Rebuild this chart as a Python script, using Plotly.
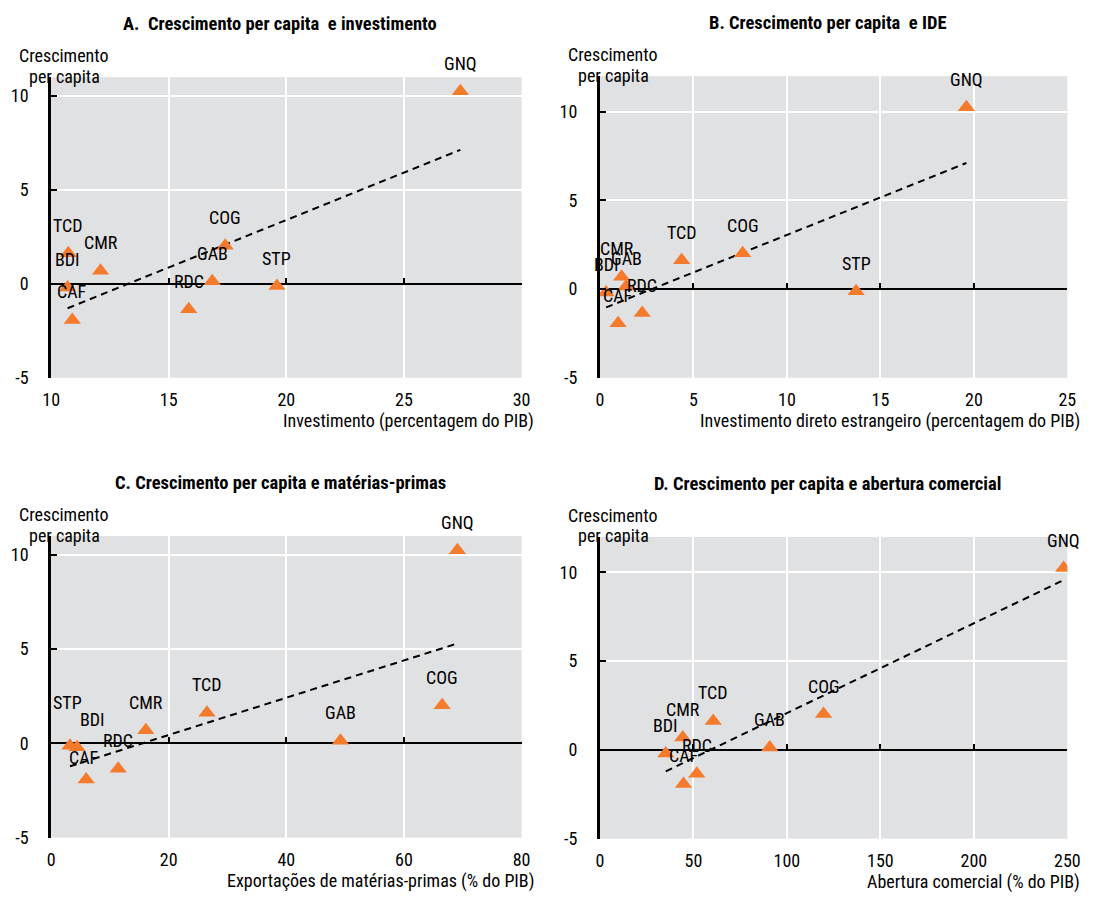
import numpy as np
import plotly.graph_objects as go

# ---- data -----------------------------------------------------------------
countries = ["GNQ", "COG", "GAB", "TCD", "CMR", "STP", "BDI", "RDC", "CAF"]
growth_per_capita = [10.25, 2.02, 0.14, 1.63, 0.70, -0.12, -0.20, -1.35, -1.92]

investment = [27.4, 17.4, 16.85, 10.73, 12.1, 19.6, 10.7, 15.85, 10.9]
fdi = [19.6, 7.63, 1.4, 4.37, 1.16, 13.7, 0.33, 2.26, 0.97]
commodity_exports = [69.1, 66.5, 49.2, 26.5, 16.1, 3.2, 4.4, 11.4, 5.96]
trade_openness = [248.0, 119.6, 90.8, 60.6, 44.3, None, 35.2, 51.8, 44.7]

y_ticks = [-5, 0, 5, 10]
y_tick_text = ["-5", "0", "5", "10"]

# ---- styling --------------------------------------------------------------
FONT = ("Liberation Sans Narrow, Arial Narrow, Roboto Condensed, "
        "DejaVu Sans Condensed, Arial, sans-serif")
FS = 18
FS_TITLE = 18.5
W, H = 1099, 903
ORANGE = "#F47A2C"
BG = "#E0E1E3"

panels = [
    dict(title="A.  Crescimento per capita  e investimento",
         xtitle="Investimento (percentagem do PIB)",
         x=investment, xrange=[10, 30], xticks=[10, 15, 20, 25, 30],
         yrange=[-5, 11], box=(43, 78, 523, 382), label_shift={}),
    dict(title="B. Crescimento per capita  e IDE",
         xtitle="Investimento direto estrangeiro (percentagem do PIB)",
         x=fdi, xrange=[0, 25], xticks=[0, 5, 10, 15, 20, 25],
         yrange=[-5, 12], box=(603, 77, 1080, 382),
         label_shift={"CMR": (-5, 28)}),
    dict(title="C. Crescimento per capita e matérias-primas",
         xtitle="Exportações de matérias-primas (% do PIB)",
         x=commodity_exports, xrange=[0, 80], xticks=[0, 20, 40, 60, 80],
         yrange=[-5, 11], box=(43, 542, 523, 847),
         label_shift={"STP": (-2, 43), "BDI": (15, 28), "CAF": (-2, 22)}),
    dict(title="D. Crescimento per capita e abertura comercial",
         xtitle="Abertura comercial (% do PIB)",
         x=trade_openness, xrange=[0, 250], xticks=[0, 50, 100, 150, 200, 250],
         yrange=[-5, 12], box=(603, 543, 1080, 848), label_shift={}),
]

fig = go.Figure()
annotations = []
layout_axes = {}


def px_x(v):
    return v / W


def px_y(v):
    return 1 - v / H


for i, p in enumerate(panels, start=1):
    sfx = "" if i == 1 else str(i)
    xref, yref = f"x{sfx}", f"y{sfx}"
    l, t, r, b = p["box"]

    pts = [(c, xv, yv) for c, xv, yv in zip(countries, p["x"], growth_per_capita)
           if xv is not None]
    xs = np.array([q[1] for q in pts], dtype=float)
    ys = np.array([q[2] for q in pts], dtype=float)

    # least-squares trend line over the observed span
    slope, intercept = np.polyfit(xs, ys, 1)
    tx = np.array([xs.min(), xs.max()])
    fig.add_trace(go.Scatter(
        x=tx, y=slope * tx + intercept, mode="lines",
        line=dict(color="black", width=2, dash="7px,5px"),
        xaxis=xref, yaxis=yref, showlegend=False, hoverinfo="skip"))

    fig.add_trace(go.Scatter(
        x=xs, y=ys, mode="markers",
        marker=dict(symbol="triangle-up", size=15, color=ORANGE),
        xaxis=xref, yaxis=yref, showlegend=False,
        text=[q[0] for q in pts], hoverinfo="text+x+y"))

    # country labels
    for c, xv, yv in pts:
        dx, dy = p["label_shift"].get(c, (0, 28))
        annotations.append(dict(
            x=xv, y=yv, xref=xref, yref=yref, text=c, showarrow=False,
            xanchor="center", yanchor="middle", xshift=dx, yshift=dy,
            font=dict(family=FONT, size=FS, color="black")))

    # empty trace so the zero-line tick axis gets drawn
    ov = 4 + i
    fig.add_trace(go.Scatter(x=[], y=[], xaxis=f"x{ov}", yaxis=yref,
                             showlegend=False, hoverinfo="skip"))

    y0, y1 = p["yrange"]
    ydom = [px_y(b), px_y(t)]
    xdom = [px_x(l), px_x(r)]

    layout_axes[f"xaxis{sfx}"] = dict(
        domain=xdom, range=p["xrange"], anchor=yref,
        tickvals=p["xticks"], showgrid=True, gridcolor="white", gridwidth=2,
        zeroline=False, showline=False, ticks="",
        tickfont=dict(family=FONT, size=FS, color="black"),
        ticklabelstandoff=9, fixedrange=True)
    layout_axes[f"yaxis{sfx}"] = dict(
        domain=ydom, range=[y0, y1], anchor=xref,
        tickvals=y_ticks, ticktext=y_tick_text,
        showgrid=True, gridcolor="white", gridwidth=2,
        zeroline=True, zerolinecolor="black", zerolinewidth=2,
        showline=True, linecolor="black", linewidth=3,
        ticks="inside", ticklen=6, tickwidth=2, tickcolor="black",
        tickfont=dict(family=FONT, size=FS, color="black"),
        ticklabelstandoff=16, fixedrange=True)
    # tick marks sitting on the zero line
    zero_pos = ydom[0] + (0 - y0) / (y1 - y0) * (ydom[1] - ydom[0])
    layout_axes[f"xaxis{ov}"] = dict(
        overlaying=xref, anchor="free", position=zero_pos, side="bottom",
        range=p["xrange"], tickvals=p["xticks"], showticklabels=False,
        showgrid=False, zeroline=False, showline=False,
        ticks="inside", ticklen=6, tickwidth=2, tickcolor="black",
        fixedrange=True)

    # panel title
    annotations.append(dict(
        x=px_x((l + r) / 2 - 6), y=px_y(t - 54), xref="paper", yref="paper",
        text=f"<b>{p['title']}</b>", showarrow=False,
        xanchor="center", yanchor="middle",
        font=dict(family=FONT, size=FS_TITLE, color="black")))
    # y-axis caption
    for txt, off in (("Crescimento", 22), ("per capita", 1)):
        annotations.append(dict(
            x=px_x(l + 13.5), y=px_y(t - off), xref="paper", yref="paper",
            text=txt, showarrow=False, xanchor="center", yanchor="middle",
            font=dict(family=FONT, size=FS, color="black")))
    # x-axis caption
    annotations.append(dict(
        x=px_x(r + 15), y=px_y(b + 44), xref="paper", yref="paper",
        text=p["xtitle"], showarrow=False, xanchor="right", yanchor="middle",
        font=dict(family=FONT, size=FS, color="black")))

fig.update_layout(
    width=W, height=H, margin=dict(l=0, r=0, t=0, b=0),
    paper_bgcolor="white", plot_bgcolor=BG,
    font=dict(family=FONT, size=FS, color="black"),
    annotations=annotations, showlegend=False, **layout_axes)

fig.write_html("out.html")
